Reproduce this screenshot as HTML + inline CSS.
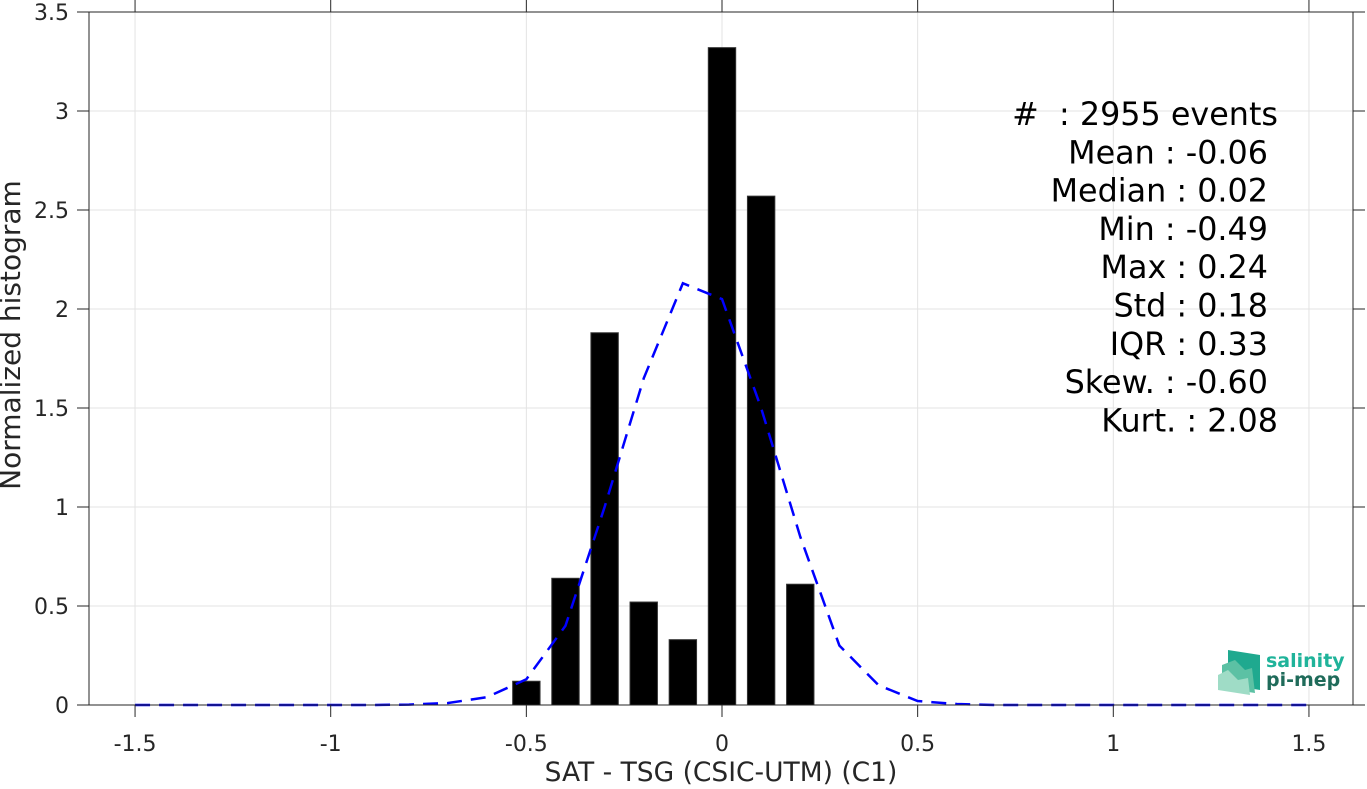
<!DOCTYPE html>
<html><head><meta charset="utf-8"><style>
body{margin:0;background:#fff;width:1367px;height:785px;overflow:hidden;font-family:"DejaVu Sans","Liberation Sans",sans-serif;}
</style></head><body>
<svg id="chart" width="1367" height="785" xmlns="http://www.w3.org/2000/svg" font-family="DejaVu Sans, Liberation Sans, sans-serif"></svg>
<script>
const binCenters=[-0.5,-0.4,-0.3,-0.2,-0.1,0,0.1,0.2];
const binValues=[0.12,0.64,1.88,0.52,0.33,3.32,2.57,0.61];
const curveX=[-1.5,-1.4,-1.3,-1.2,-1.1,-1,-0.9,-0.8,-0.7,-0.6,-0.5,-0.4,-0.3,-0.2,-0.1,0,0.1,0.2,0.3,0.4,0.5,0.6,0.7,0.8,0.9,1,1.1,1.2,1.3,1.4,1.5];
const curveY=[0,0,0,0,0,0,0,0.002,0.01,0.04,0.13,0.4,1.0,1.65,2.13,2.05,1.5,0.85,0.3,0.1,0.02,0.005,0,0,0,0,0,0,0,0,0];
const xTicks=[-1.5,-1,-0.5,0,0.5,1,1.5];
const xTickLabels=["-1.5","-1","-0.5","0","0.5","1","1.5"];
const yTicks=[0,0.5,1,1.5,2,2.5,3,3.5];
const yTickLabels=["0","0.5","1","1.5","2","2.5","3","3.5"];
const statsLines=["#  : 2955 events","Mean : -0.06","Median : 0.02","Min : -0.49","Max : 0.24","Std : 0.18","IQR : 0.33","Skew. : -0.60","Kurt. : 2.08"];

const L=89,R=1353,T=12,B=705,ymax=3.5;
const sx=v=>722+v*391.3;
const sy=v=>B-v/ymax*(B-T);
const svg=document.getElementById('chart');
const NS='http://www.w3.org/2000/svg';
function mk(tag,attrs,parent){const e=document.createElementNS(NS,tag);for(const k in attrs)e.setAttribute(k,attrs[k]);(parent||svg).appendChild(e);return e;}

xTicks.forEach((t,i)=>{const g=mk('line',{x1:sx(t),x2:sx(t),y1:T,y2:B,stroke:'#e3e3e3','stroke-width':1});

});
yTicks.forEach((t,i)=>{const g=mk('line',{x1:L,x2:R,y1:sy(t),y2:sy(t),stroke:'#e3e3e3','stroke-width':1});

});

binCenters.forEach((c,i)=>{const w=0.07;const b=mk('rect',{x:sx(c-w/2),y:sy(binValues[i]),width:sx(c+w/2)-sx(c-w/2),height:B-sy(binValues[i]),fill:'#000',stroke:'#333','stroke-width':1});

});

const pts=curveX.map((x,i)=>sx(x)+','+sy(curveY[i])).join(' ');
const cl=mk('polyline',{points:pts,fill:'none',stroke:'#0000ff','stroke-width':2.5,'stroke-dasharray':'15,9'});



const box=mk('rect',{x:L,y:T,width:R-L,height:B-T,fill:'none',stroke:'#262626','stroke-width':1});



xTicks.forEach((t,i)=>{
 mk('line',{x1:sx(t),x2:sx(t),y1:B,y2:B+12,stroke:'#262626'});
 mk('line',{x1:sx(t),x2:sx(t),y1:T,y2:T-12,stroke:'#262626'});
 const tx=mk('text',{x:sx(t),y:B+46,'text-anchor':'middle','font-size':22,fill:'#262626'});tx.textContent=xTickLabels[i];
 
 
});
yTicks.forEach((t,i)=>{
 mk('line',{x1:L-12,x2:L,y1:sy(t),y2:sy(t),stroke:'#262626'});
 mk('line',{x1:R,x2:R+12,y1:sy(t),y2:sy(t),stroke:'#262626'});
 const tx=mk('text',{x:L-20,y:sy(t)+8,'text-anchor':'end','font-size':22,fill:'#262626'});tx.textContent=yTickLabels[i];
 
 
});

const xt=mk('text',{x:721,y:781,'text-anchor':'middle','font-size':26.5,fill:'#262626'});xt.textContent='SAT - TSG (CSIC-UTM) (C1)';


const yt=mk('text',{x:0,y:0,'text-anchor':'middle','font-size':28,fill:'#262626',transform:'translate(20,335) rotate(-90)'});yt.textContent='Normalized histogram';



statsLines.forEach((s,i)=>{const rx=(i===0||i===8)?1278:1268;
 const tx=mk('text',{x:rx,y:125+i*38.3,'text-anchor':'end','font-size':31.8,fill:'#000','xml:space':'preserve'});tx.textContent=s;
 tx.style.whiteSpace='pre';
 
 });

const lg=mk('g',{});


mk('polygon',{points:'1228,650 1260,655 1260,690 1228,685',fill:'#1fa98f'},lg);
mk('polygon',{points:'1222,665 1235,660 1245,670 1252,668 1255,693 1222,688',fill:'#5cc1a4'},lg);
mk('polygon',{points:'1218,675 1228,670 1238,680 1248,678 1250,695 1218,690',fill:'#9fdcc6'},lg);
const t1=mk('text',{x:1266,y:667,'font-size':19,'font-weight':'bold',fill:'#1fb39a'},lg);t1.textContent='salinity';
const t2=mk('text',{x:1266,y:686,'font-size':19,'font-weight':'bold',fill:'#1f6b5a'},lg);t2.textContent='pi-mep';
</script>
</body></html>
